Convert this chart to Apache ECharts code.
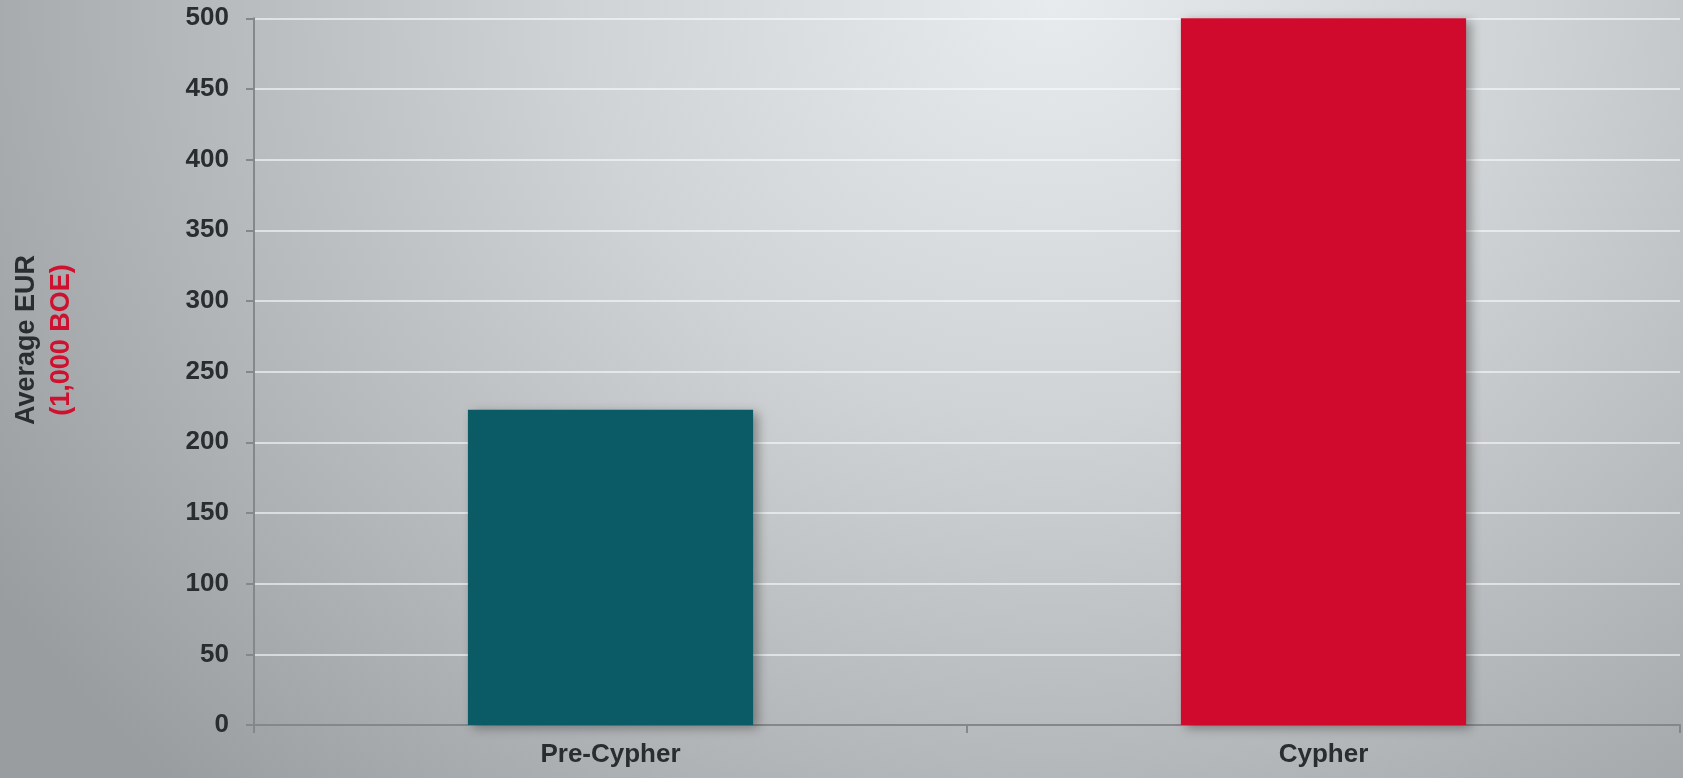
<!DOCTYPE html>
<html>
<head>
<meta charset="utf-8">
<script src="https://cdn.jsdelivr.net/npm/echarts@6/dist/echarts.min.js"></script>
<style>
  html, body { margin: 0; padding: 0; }
  #chart {
    width: 1683px; height: 778px;
    background: radial-gradient(ellipse 1250px 1100px at 1050px 0px, #e8ebee 0%, #d0d3d5 38%, #b3b6b8 72%, #9a9da0 100%);
  }
</style>
</head>
<body>
<div id="chart"></div>
<script>
const categories = ['Pre-Cypher', 'Cypher'];
const values = [223, 500];
const barColors = ['#0a5b66', '#d00a2d'];
const yTicks = { min: 0, max: 500, interval: 50 };
const axisNameLine1 = 'Average EUR';
const axisNameLine2 = '(1,000 BOE)';

const chart = echarts.init(document.getElementById('chart'), null, { renderer: 'canvas' });
const FONT = '"Liberation Sans", Arial, sans-serif';
chart.setOption({
  backgroundColor: 'transparent',
  animation: false,
  grid: { left: 254, right: 3, top: 18.3, bottom: 53, containLabel: false },
  xAxis: {
    type: 'category',
    data: categories,
    axisLine: { show: true, lineStyle: { color: '#85878a', width: 2 } },
    axisTick: { show: true, length: 8, lineStyle: { color: '#85878a', width: 2 } },
    axisLabel: { color: '#2a2d30', fontSize: 26, fontWeight: 'bold', fontFamily: FONT, margin: 17 },
    splitLine: { show: false }
  },
  yAxis: {
    type: 'value',
    min: yTicks.min, max: yTicks.max, interval: yTicks.interval,
    axisLine: { show: true, lineStyle: { color: '#85878a', width: 2 } },
    axisTick: { show: true, length: 8, lineStyle: { color: '#85878a', width: 2 } },
    axisLabel: { color: '#2a2d30', fontSize: 26, fontWeight: 'bold', fontFamily: FONT, margin: 25 },
    splitLine: { show: true, lineStyle: { color: 'rgba(250,251,252,0.8)', width: 1.5 } }
  },
  series: [{
    type: 'bar',
    data: values.map((v, i) => ({ value: v, itemStyle: { color: barColors[i] } })),
    barWidth: '40%',
    itemStyle: {
      shadowColor: 'rgba(0,0,0,0.35)',
      shadowBlur: 10,
      shadowOffsetX: 5,
      shadowOffsetY: 3
    }
  }],
  graphic: [{
    type: 'text',
    x: 44,
    y: 340,
    rotation: Math.PI / 2,
    style: {
      text: '{a|' + axisNameLine1 + '}\n{b|' + axisNameLine2 + '}',
      align: 'center',
      verticalAlign: 'middle',
      rich: {
        a: { fontSize: 27, fontWeight: 'bold', fontFamily: FONT, fill: '#2a2d30', lineHeight: 35 },
        b: { fontSize: 27, fontWeight: 'bold', fontFamily: FONT, fill: '#d0102f', lineHeight: 35 }
      }
    }
  }]
});
</script>
</body>
</html>
